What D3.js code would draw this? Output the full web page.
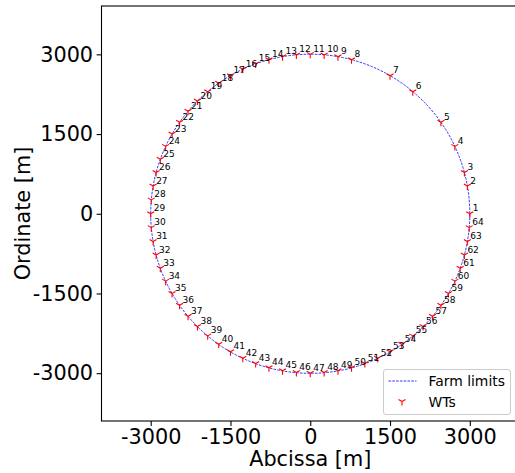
<!DOCTYPE html>
<html>
<head>
<meta charset="utf-8">
<script src="https://cdn.jsdelivr.net/npm/d3@7"></script>
<style>
  html, body { margin: 0; padding: 0; background: #fff; }
  svg { display: block; font-family: "DejaVu Sans", sans-serif; }
</style>
</head>
<body>
<svg id="chart" width="515" height="473"></svg>
<script>
// Wind turbine layout on the farm boundary circle (coordinates in metres)
const farmRadius = 3000;
const wtIds = [
  1, 2, 3, 4, 5, 6, 7, 8, 9, 10, 11, 12, 13, 14, 15, 16,
  17, 18, 19, 20, 21, 22, 23, 24, 25, 26, 27, 28, 29, 30, 31, 32,
  33, 34, 35, 36, 37, 38, 39, 40, 41, 42, 43, 44, 45, 46, 47, 48,
  49, 50, 51, 52, 53, 54, 55, 56, 57, 58, 59, 60, 61, 62, 63, 64
];
const wtX = [
  3000, 2954, 2898, 2719, 2457, 1928, 1500, 776, 521, 261, 0, -261, -521, -776, -1026, -1268,
  -1500, -1721, -1928, -2121, -2298, -2457, -2598, -2719, -2819, -2898, -2954, -2989, -3000, -2989, -2954, -2898,
  -2819, -2719, -2598, -2457, -2298, -2121, -1928, -1721, -1500, -1268, -1026, -776, -521, -261, 0, 261,
  521, 776, 1026, 1268, 1500, 1721, 1928, 2121, 2298, 2457, 2598, 2719, 2819, 2898, 2954, 2989
];
const wtY = [
  0, 521, 776, 1268, 1721, 2298, 2598, 2898, 2954, 2989, 3000, 2989, 2954, 2898, 2819, 2719,
  2598, 2457, 2298, 2121, 1928, 1721, 1500, 1268, 1026, 776, 521, 261, 0, -261, -521, -776,
  -1026, -1268, -1500, -1721, -1928, -2121, -2298, -2457, -2598, -2719, -2819, -2898, -2954, -2989, -3000, -2989,
  -2954, -2898, -2819, -2719, -2598, -2457, -2298, -2121, -1928, -1721, -1500, -1268, -1026, -776, -521, -261
];
const tickValues = [-3000, -1500, 0, 1500, 3000];
const tickLabels = ["-3000", "-1500", "0", "1500", "3000"];
const legendLabels = ["Farm limits", "WTs"];

const turbines = wtIds.map((id, i) => ({ id, x: wtX[i], y: wtY[i] }));

const svg = d3.select("#chart");
const plot = { left: 101.5, right: 519, top: 6, bottom: 421 };

const x = d3.scaleLinear().domain([-3925, 3925]).range([plot.left, plot.right]);
const y = d3.scaleLinear().domain([-3900, 3910]).range([plot.bottom, plot.top]);

svg.append("defs").append("clipPath").attr("id", "plotClip")
  .append("rect")
  .attr("x", plot.left).attr("y", plot.top)
  .attr("width", plot.right - plot.left).attr("height", plot.bottom - plot.top);

const body = svg.append("g").attr("clip-path", "url(#plotClip)");

// Farm boundary
body.append("circle")
  .attr("cx", x(0)).attr("cy", y(0))
  .attr("r", x(farmRadius) - x(0))
  .attr("fill", "none")
  .attr("stroke", "#0000ff")
  .attr("stroke-width", 0.8)
  .attr("stroke-dasharray", "2.6,1.2");

// tri_down marker
function triDown(r) {
  const a = 0.866 * r, b = 0.5 * r;
  return `M0,0L0,${r}M0,0L${-a},${-b}M0,0L${a},${-b}`;
}

body.selectAll("path.wt")
  .data(turbines)
  .join("path")
  .attr("class", "wt")
  .attr("transform", d => `translate(${x(d.x)},${y(d.y)})`)
  .attr("d", triDown(4))
  .attr("fill", "none")
  .attr("stroke", "#ff0000")
  .attr("stroke-width", 1.1);

body.selectAll("text.wtlabel")
  .data(turbines)
  .join("text")
  .attr("class", "wtlabel")
  .attr("x", d => x(d.x) + 3)
  .attr("y", d => y(d.y) - 2.5)
  .attr("font-size", 9)
  .attr("fill", "#000")
  .text(d => d.id);

// Axes
const xAxis = d3.axisBottom(x)
  .tickValues(tickValues)
  .tickFormat((d, i) => tickLabels[i])
  .tickSize(4.9).tickPadding(3.5);
const yAxis = d3.axisLeft(y)
  .tickValues(tickValues)
  .tickFormat((d, i) => tickLabels[i])
  .tickSize(4.9).tickPadding(3.5);

const gx = svg.append("g").attr("transform", `translate(0,${plot.bottom})`).call(xAxis);
const gy = svg.append("g").attr("transform", `translate(${plot.left},0)`).call(yAxis);
[gx, gy].forEach(g => {
  g.select(".domain").remove();
  g.selectAll(".tick line").attr("stroke", "#000").attr("stroke-width", 1.1);
  g.selectAll(".tick text")
    .attr("font-family", "DejaVu Sans")
    .attr("font-size", 20.8)
    .attr("fill", "#000");
});

// Frame
svg.append("rect")
  .attr("x", plot.left).attr("y", plot.top)
  .attr("width", plot.right - plot.left).attr("height", plot.bottom - plot.top)
  .attr("fill", "none")
  .attr("stroke", "#000")
  .attr("stroke-width", 1.1);

// Axis titles
svg.append("text")
  .attr("x", (plot.left + 518) / 2 + 0.5)
  .attr("y", 465.5)
  .attr("text-anchor", "middle")
  .attr("font-size", 20.8)
  .attr("fill", "#000")
  .text("Abcissa [m]");

svg.append("text")
  .attr("transform", `translate(29.5,${(plot.top + plot.bottom) / 2}) rotate(-90)`)
  .attr("text-anchor", "middle")
  .attr("font-size", 20.8)
  .attr("fill", "#000")
  .text("Ordinate [m]");

// Legend
const lg = svg.append("g").attr("transform", "translate(383.5,369.5)");
lg.append("rect")
  .attr("width", 127).attr("height", 45)
  .attr("rx", 2.5).attr("ry", 2.5)
  .attr("fill", "#fff").attr("fill-opacity", 0.8)
  .attr("stroke", "#cccccc").attr("stroke-width", 1);
lg.append("line")
  .attr("x1", 5).attr("x2", 33).attr("y1", 11.5).attr("y2", 11.5)
  .attr("stroke", "#0000ff").attr("stroke-width", 0.8)
  .attr("stroke-dasharray", "2.6,1.2");
lg.append("path")
  .attr("transform", "translate(18.5,32)")
  .attr("d", triDown(4))
  .attr("fill", "none").attr("stroke", "#ff0000").attr("stroke-width", 1.1);
lg.selectAll("text.leg")
  .data(legendLabels)
  .join("text")
  .attr("class", "leg")
  .attr("x", 45)
  .attr("y", (d, i) => 16.5 + i * 20.5)
  .attr("font-size", 13.9)
  .attr("fill", "#000")
  .text(d => d);
</script>
</body>
</html>
